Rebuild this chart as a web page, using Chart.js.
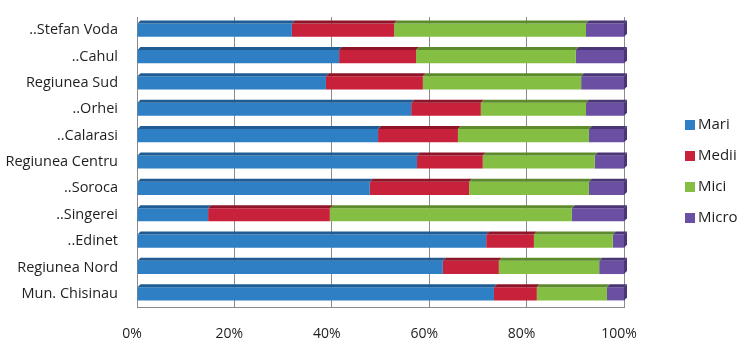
<!DOCTYPE html>
<html>
<head>
<meta charset="utf-8">
<script src="https://cdn.jsdelivr.net/npm/chart.js@4/dist/chart.umd.min.js"></script>
<style>
  html, body { margin: 0; padding: 0; background: #ffffff; }
  #wrap { width: 752px; height: 358px; position: relative; }
</style>
</head>
<body>
<div id="wrap"><canvas id="c" width="752" height="358"></canvas></div>
<script>
const categories = ['..Stefan Voda', '..Cahul', 'Regiunea Sud', '..Orhei', '..Calarasi', 'Regiunea Centru', '..Soroca', '..Singerei', '..Edinet', 'Regiunea Nord', 'Mun. Chisinau'];
const mari  = [31.8, 41.5, 38.8, 56.3, 49.5, 57.5, 47.8, 14.6, 71.7, 62.8, 73.3];
const medii = [21.0, 15.8, 19.9, 14.3, 16.4, 13.5, 20.4, 25.0,  9.8, 11.5,  8.8];
const mici  = [39.4, 32.8, 32.5, 21.6, 26.9, 23.0, 24.6, 49.7, 16.2, 20.6, 14.4];
const micro = [ 7.8,  9.9,  8.8,  7.8,  7.2,  6.0,  7.2, 10.7,  2.3,  5.1,  3.5];
const seriesNames = ['Mari', 'Medii', 'Mici', 'Micro'];
const seriesColors = ['#2f7fc4', '#c8213b', '#84bf43', '#6a4fa3'];
const sideColors = ['#1f5c94', '#8e1528', '#5d8a2c', '#4a3577'];
const tickValues = [0, 20, 40, 60, 80, 100];

const FONT = '"Open Sans", "DejaVu Sans", sans-serif';

const depthPlugin = {
  id: 'depth',
  afterDatasetsDraw(chart) {
    const ctx = chart.ctx;
    const d = 3;
    ctx.save();
    const n = chart.data.datasets.length;
    chart.data.datasets.forEach((ds, di) => {
      const meta = chart.getDatasetMeta(di);
      meta.data.forEach((bar, i) => {
        const p = bar.getProps(['x', 'y', 'base', 'height'], true);
        const left = Math.min(p.base, p.x), right = Math.max(p.base, p.x);
        const top = p.y - p.height / 2;
        ctx.fillStyle = sideColors[di];
        ctx.beginPath();
        ctx.moveTo(left, top);
        ctx.lineTo(left + d, top - d);
        ctx.lineTo(right + d, top - d);
        ctx.lineTo(right, top);
        ctx.closePath();
        ctx.fill();
        if (di === n - 1) {
          ctx.beginPath();
          ctx.moveTo(right, top);
          ctx.lineTo(right + d, top - d);
          ctx.lineTo(right + d, top - d + p.height);
          ctx.lineTo(right, top + p.height);
          ctx.closePath();
          ctx.fill();
        }
      });
    });
    ctx.restore();
  }
};

const legendPlugin = {
  id: 'customLegend',
  afterDraw(chart) {
    const ctx = chart.ctx;
    ctx.save();
    ctx.font = '15px ' + FONT;
    ctx.textBaseline = 'middle';
    ctx.textAlign = 'left';
    chart.data.datasets.forEach((ds, i) => {
      const y = 125 + i * 31;
      ctx.fillStyle = ds.backgroundColor;
      ctx.fillRect(685, y - 5, 10, 10);
      ctx.fillStyle = '#1e1e1e';
      ctx.fillText(ds.label, 698, y);
    });
    ctx.restore();
  }
};

const datasets = [mari, medii, mici, micro].map((vals, i) => ({
  label: seriesNames[i],
  data: vals,
  backgroundColor: seriesColors[i],
  borderWidth: 0,
  barPercentage: 0.5,
  categoryPercentage: 1.0
}));

new Chart(document.getElementById('c'), {
  type: 'bar',
  data: { labels: categories, datasets },
  options: {
    indexAxis: 'y',
    responsive: false,
    animation: false,
    layout: { padding: { top: 17, right: 128, bottom: 0, left: 0 } },
    plugins: { legend: { display: false }, tooltip: { enabled: false } },
    scales: {
      x: {
        stacked: true,
        min: 0, max: 100,
        afterBuildTicks(scale) { scale.ticks = tickValues.map(v => ({ value: v })); },
        ticks: {
          callback: v => v + '%',
          font: { family: FONT, size: 14 },
          color: '#1e1e1e',
          padding: 19,
          labelOffset: -5,
          maxRotation: 0
        },
        grid: { color: '#8a8a8a', lineWidth: 1, drawTicks: false },
        border: { color: '#8a8a8a' },
        afterFit(scale) { scale.height = 51; scale.paddingLeft = 0; scale.paddingRight = 0; }
      },
      y: {
        stacked: true,
        ticks: {
          font: { family: FONT, size: 14.5 },
          color: '#1e1e1e',
          padding: 19
        },
        grid: { display: false, drawTicks: false },
        border: { color: '#8a8a8a' },
        afterFit(scale) { scale.width = 137; scale.paddingTop = 0; scale.paddingBottom = 0; }
      }
    }
  },
  plugins: [depthPlugin, legendPlugin]
});
</script>
</body>
</html>
